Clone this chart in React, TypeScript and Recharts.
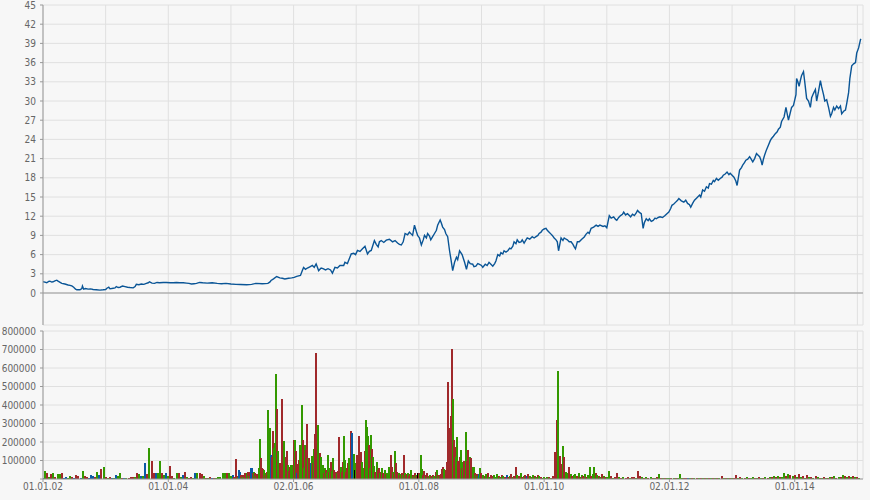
import React from "react";
import {
  ComposedChart,
  Line,
  BarChart,
  Bar,
  Cell,
  XAxis,
  YAxis,
  CartesianGrid,
  ReferenceLine,
} from "recharts";

// price points [year, price]
const price2002to2005: [number, number][] = [
  [2002.0, 1.75], [2002.03, 1.7], [2002.06, 1.6], [2002.09, 1.8], [2002.11, 1.85], [2002.14, 1.7],
  [2002.16, 1.75], [2002.19, 1.9], [2002.22, 2.0], [2002.24, 1.85], [2002.26, 1.75], [2002.3, 1.5],
  [2002.35, 1.4], [2002.4, 1.25], [2002.43, 1.2], [2002.46, 1.1], [2002.49, 0.9], [2002.52, 0.6],
  [2002.54, 0.5], [2002.59, 0.5], [2002.62, 0.7], [2002.63, 1.1], [2002.65, 0.6], [2002.68, 0.7],
  [2002.72, 0.6], [2002.76, 0.65], [2002.8, 0.55], [2002.85, 0.5], [2002.91, 0.45], [2002.96, 0.5],
  [2003.0, 0.55], [2003.02, 0.75], [2003.05, 0.9], [2003.07, 0.65], [2003.12, 0.75], [2003.15, 0.8],
  [2003.17, 1.0], [2003.2, 0.85], [2003.23, 0.9], [2003.27, 1.1], [2003.31, 1.0], [2003.35, 0.9],
  [2003.39, 0.85], [2003.44, 0.8], [2003.47, 1.0], [2003.49, 1.35], [2003.53, 1.3], [2003.57, 1.4],
  [2003.61, 1.35], [2003.65, 1.5], [2003.68, 1.6], [2003.7, 1.75], [2003.74, 1.55], [2003.78, 1.5],
  [2003.82, 1.65], [2003.86, 1.6], [2003.92, 1.65], [2003.97, 1.65], [2004.03, 1.6], [2004.08, 1.6],
  [2004.13, 1.65], [2004.18, 1.6], [2004.24, 1.6], [2004.29, 1.55], [2004.33, 1.5], [2004.37, 1.4],
  [2004.41, 1.45], [2004.45, 1.5], [2004.5, 1.65], [2004.55, 1.6], [2004.62, 1.55], [2004.7, 1.6],
  [2004.78, 1.5], [2004.85, 1.45], [2004.92, 1.5], [2005.0, 1.4], [2005.08, 1.35], [2005.15, 1.33],
  [2005.25, 1.3], [2005.33, 1.35],
];

const price2005to2007: [number, number][] = [
  [2005.4, 1.5], [2005.5, 1.45], [2005.59, 1.5], [2005.62, 1.7], [2005.64, 1.95], [2005.68, 2.2],
  [2005.73, 2.58], [2005.78, 2.37], [2005.82, 2.3], [2005.86, 2.2], [2005.92, 2.3], [2005.97, 2.37],
  [2006.01, 2.45], [2006.05, 2.6], [2006.11, 2.75], [2006.14, 3.5], [2006.16, 4.0], [2006.19, 3.7],
  [2006.22, 3.9], [2006.26, 4.1], [2006.3, 4.3], [2006.33, 4.0], [2006.36, 4.55], [2006.4, 3.5],
  [2006.44, 3.9], [2006.47, 3.8], [2006.51, 3.6], [2006.55, 3.8], [2006.59, 3.6], [2006.62, 3.1],
  [2006.66, 4.0], [2006.7, 3.9], [2006.74, 4.3], [2006.8, 4.3], [2006.82, 4.8], [2006.86, 4.6],
  [2006.88, 5.1], [2006.92, 6.1], [2006.96, 6.2], [2006.99, 6.0], [2007.02, 6.65], [2007.06, 6.5],
  [2007.1, 6.9], [2007.14, 7.3], [2007.18, 6.1], [2007.21, 6.5], [2007.24, 6.65], [2007.29, 8.2],
  [2007.32, 7.6], [2007.35, 7.2],
];

const price2007to2010: [number, number][] = [
  [2007.37, 8.0], [2007.4, 8.2], [2007.44, 7.9], [2007.48, 8.25], [2007.53, 8.4], [2007.58, 8.0],
  [2007.62, 8.2], [2007.66, 7.8], [2007.69, 7.6], [2007.72, 7.5], [2007.75, 8.0], [2007.78, 9.3],
  [2007.82, 9.1], [2007.85, 9.5], [2007.88, 9.2], [2007.9, 9.0], [2007.93, 10.6], [2007.96, 9.6],
  [2007.98, 9.0], [2008.01, 8.6], [2008.04, 7.5], [2008.07, 8.3], [2008.09, 9.0], [2008.12, 8.6],
  [2008.14, 9.3], [2008.17, 8.9], [2008.19, 8.3], [2008.22, 8.8], [2008.25, 9.3], [2008.28, 9.8],
  [2008.3, 10.6], [2008.34, 11.4], [2008.36, 10.9], [2008.38, 10.3], [2008.41, 9.9], [2008.43, 9.3],
  [2008.46, 8.8], [2008.49, 6.6], [2008.51, 5.4], [2008.54, 3.5], [2008.57, 4.8], [2008.6, 5.6],
  [2008.62, 5.2], [2008.65, 6.6], [2008.69, 6.0], [2008.73, 4.8], [2008.76, 3.7], [2008.79, 5.0],
  [2008.82, 4.6], [2008.86, 4.5], [2008.88, 4.1], [2008.91, 4.2], [2008.94, 4.6], [2008.96, 4.5],
  [2009.0, 4.3], [2009.02, 4.0], [2009.06, 4.5], [2009.09, 4.3], [2009.12, 4.8], [2009.15, 4.5],
  [2009.18, 4.2], [2009.21, 4.6], [2009.23, 5.0], [2009.26, 6.0], [2009.29, 5.8], [2009.31, 6.3],
  [2009.34, 6.1], [2009.36, 6.6], [2009.39, 6.4], [2009.42, 6.6], [2009.45, 7.0], [2009.47, 6.9],
  [2009.5, 7.3], [2009.52, 8.0], [2009.55, 7.7], [2009.57, 8.3], [2009.6, 7.9], [2009.63, 8.0],
  [2009.65, 8.3], [2009.68, 7.8], [2009.71, 8.3], [2009.73, 8.6], [2009.77, 8.4], [2009.81, 8.8],
  [2009.84, 8.6], [2009.87, 8.8], [2009.9, 9.0], [2009.92, 9.3], [2009.95, 9.5], [2009.97, 9.8],
  [2010.0, 10.0], [2010.03, 10.1], [2010.05, 9.8], [2010.08, 9.5], [2010.11, 9.2], [2010.13, 9.0],
  [2010.16, 8.6], [2010.19, 8.3], [2010.21, 8.0], [2010.23, 6.6], [2010.25, 7.6], [2010.27, 8.6],
  [2010.3, 8.2], [2010.32, 8.6], [2010.35, 8.4], [2010.37, 8.3], [2010.4, 8.0], [2010.43, 8.0],
  [2010.46, 7.6], [2010.48, 7.2], [2010.5, 6.9], [2010.53, 8.0],
];

const price2010to2015: [number, number][] = [
  [2010.56, 8.0], [2010.6, 8.4], [2010.64, 8.75], [2010.67, 9.2], [2010.7, 9.5], [2010.72, 9.3],
  [2010.75, 10.1], [2010.79, 10.3], [2010.83, 10.6], [2010.86, 10.4], [2010.89, 10.6], [2010.94, 10.4],
  [2010.97, 10.5], [2011.0, 10.2], [2011.04, 12.1], [2011.07, 11.7], [2011.11, 11.9], [2011.14, 11.5],
  [2011.16, 11.35], [2011.19, 11.8], [2011.22, 12.1], [2011.25, 12.3], [2011.27, 12.65], [2011.3, 12.2],
  [2011.33, 12.4], [2011.36, 12.1], [2011.38, 11.9], [2011.41, 12.3], [2011.44, 12.1], [2011.47, 12.5],
  [2011.49, 12.9], [2011.52, 12.6], [2011.55, 12.4], [2011.58, 10.1], [2011.6, 11.0], [2011.63, 11.6],
  [2011.66, 11.3], [2011.68, 11.6], [2011.71, 11.2], [2011.74, 11.35], [2011.77, 11.7], [2011.79, 11.6],
  [2011.82, 11.8], [2011.85, 11.9], [2011.89, 11.8], [2011.93, 12.1], [2011.96, 12.4], [2011.99, 12.65],
  [2012.02, 13.2], [2012.04, 13.7], [2012.07, 13.9], [2012.1, 14.2], [2012.13, 14.5], [2012.15, 14.75],
  [2012.19, 14.4], [2012.23, 14.2], [2012.26, 14.5], [2012.29, 14.0], [2012.32, 13.8], [2012.34, 13.4],
  [2012.37, 14.0], [2012.4, 14.5], [2012.44, 14.9], [2012.48, 15.3], [2012.5, 15.0], [2012.53, 16.1],
  [2012.56, 15.9], [2012.59, 16.6], [2012.62, 16.4], [2012.64, 17.1], [2012.67, 17.0], [2012.7, 17.6],
  [2012.72, 17.4], [2012.75, 17.9], [2012.78, 17.6], [2012.81, 17.9], [2012.84, 18.1], [2012.86, 18.4],
  [2012.89, 18.6], [2012.92, 18.9], [2012.95, 18.5], [2012.97, 18.7], [2013.0, 18.4], [2013.03, 18.1],
  [2013.06, 17.5], [2013.08, 16.8], [2013.1, 18.0], [2013.12, 19.2], [2013.15, 19.6], [2013.17, 20.0],
  [2013.2, 20.4], [2013.22, 20.75], [2013.25, 20.9], [2013.28, 21.3], [2013.3, 21.0], [2013.33, 20.5],
  [2013.36, 21.0], [2013.39, 21.8], [2013.42, 21.5], [2013.44, 21.3], [2013.46, 20.8], [2013.48, 20.0],
  [2013.5, 20.9], [2013.52, 21.55], [2013.55, 22.4], [2013.58, 23.1], [2013.61, 23.8], [2013.63, 24.15],
  [2013.66, 24.5], [2013.69, 24.9], [2013.72, 25.2], [2013.74, 25.6], [2013.77, 25.9], [2013.79, 26.8],
  [2013.83, 27.5], [2013.86, 29.0], [2013.88, 28.0], [2013.9, 27.0], [2013.93, 28.2], [2013.95, 29.0],
  [2013.98, 29.3], [2014.02, 31.0], [2014.03, 33.5], [2014.05, 33.0], [2014.07, 32.3], [2014.09, 33.2],
  [2014.11, 34.0], [2014.14, 34.6], [2014.16, 33.0], [2014.19, 30.4], [2014.22, 30.0], [2014.25, 29.0],
  [2014.27, 30.5], [2014.3, 31.2], [2014.33, 31.8], [2014.35, 30.0], [2014.38, 31.5], [2014.41, 33.2],
  [2014.43, 32.2], [2014.46, 31.0], [2014.48, 30.0], [2014.51, 30.2], [2014.54, 29.0], [2014.57, 27.6],
  [2014.59, 28.0], [2014.62, 29.0], [2014.64, 28.6], [2014.67, 29.2], [2014.7, 28.8], [2014.73, 29.2],
  [2014.75, 28.0], [2014.78, 28.4], [2014.81, 28.6], [2014.83, 29.6], [2014.86, 31.3], [2014.88, 33.5],
  [2014.91, 35.5], [2014.94, 35.8], [2014.97, 36.0], [2014.99, 37.5], [2015.02, 38.3], [2015.05, 39.6],
  [2015.06, 39.7],
];

// volume in thousands, one slot per value spread evenly over the year; g = up, r = down, b = flat
const vol2002 = [8, 45, 30, 12, 25, 30, 10, 28, 25, 30, 8, 10, 6, 15, 10, 5, 20, 15, 6, 42, 15, 12, 6, 20, 15, 12, 40, 20, 55, 65];
const col2002 = "bgrgrgrggrbbggrbrrbgrrbbbrgbrg";
const vol2003 = [10, 6, 12, 5, 6, 20, 15, 30, 5, 8, 5, 6, 10, 10, 12, 30, 28, 15, 15, 85, 25, 165, 100, 30, 30, 30, 100, 30, 20, 30];
const col2003 = "rgrbgbggrbgrrrgrgbgbrgrrbggrgb";
const vol2004 = [15, 70, 15, 8, 30, 35, 10, 20, 40, 10, 6, 10, 5, 35, 35, 35, 25, 15, 5, 4, 10, 5, 8, 5, 10, 10, 30, 35, 35, 35];
const col2004 = "grrggrgbrgrrgbgrrgrgrbrgggggrg";
const vol2005 = [
  15, 8, 20, 10, 6, 110, 15, 10, 50, 40, 20, 12, 20, 10, 30, 30, 40, 15, 40, 58,
  60, 30, 40, 30, 15, 25, 20, 60, 217, 112, 58, 55, 50, 20, 30, 40, 375, 275, 130, 121,
  257, 167, 194, 570, 380, 149, 85, 85, 80, 435, 158, 203, 121, 121, 149, 76, 45, 67, 76, 76,
];
const col2005 = "ggbrgrrgbbrgrgrgrgrbbrgrgrrggrrrgrgrggbrrgggrggrrrrggrrgrrgg";
const vol2006 = [
  212, 212, 149, 30, 80, 103, 185, 130, 402, 212, 60, 185, 158, 297, 112, 112, 60, 85, 125, 85,
  161, 243, 680, 293, 60, 140, 121, 40, 76, 30, 58, 50, 35, 130, 40, 58, 94, 45, 112, 50,
  30, 40, 30, 45, 225, 67, 40, 94, 234, 103, 40, 58, 85, 112, 60, 257, 248, 94, 136, 50,
];
const col2006 = "rgrbrrgggrggrrgrrbgrgrrggrgggrgrggrgrggrrrgrrgrrggrrrggrbbg";
const vol2007 = [
  85, 130, 102, 230, 94, 146, 94, 60, 149, 317, 280, 234, 182, 60, 236, 164, 120, 70, 40, 35,
  93, 50, 57, 30, 40, 57, 30, 35, 48, 25, 30, 66, 40, 129, 66, 40, 30, 152, 84, 39,
  25, 30, 20, 25, 30, 20, 129, 30, 20, 25, 30, 15, 25, 48, 20, 15, 30, 22, 15, 30,
];
const col2007 = "grrrrrggrgggrggrggrrgrrgrgrrgrgggrrgrgrrrgrgrgrgrrgrrgrgrgr";
const vol2008 = [
  30, 25, 130, 52, 20, 45, 15, 20, 30, 10, 15, 21, 15, 10, 20, 15, 39, 49, 20, 15,
  21, 25, 52, 65, 52, 30, 48, 90, 524, 273, 150, 340, 703, 430, 209, 173, 120, 225, 100, 120,
  155, 60, 93, 100, 70, 254, 100, 155, 113, 120, 111, 40, 67, 66, 30, 20, 25, 15, 25, 57,
];
const col2008 = "rgggrrgrrgrgrgrgrgrgrrrrggrrrrrrrgrrggrrgrgrrgrrrgrrggrgrgbg";
const vol2009 = [30, 20, 15, 25, 30, 10, 20, 15, 20, 10, 25, 15, 10, 20, 15, 10, 20, 10, 15, 25, 10, 15, 66, 20, 15, 30, 10, 15, 20, 15, 25, 15, 10, 20, 15, 10, 20, 15, 10, 8];
const col2009 = "rgrgrgrrgggrgrgrbrgrgrrgrgrgrbrgrgrgrgrg";
const vol2010 = [10, 8, 12, 10, 6, 8, 15, 146, 321, 585, 125, 80, 176, 120, 40, 30, 63, 25, 15, 20, 25, 15, 30, 10, 20, 15, 25, 10, 20, 63, 15, 25, 63, 30, 20, 15, 10, 25, 15, 10];
const col2010 = "grgrgrrrrgrrgrggrgrggrgrgrgrggrggrgrgrgr";
const vol2011 = [12, 45, 15, 8, 10, 30, 10, 8, 12, 6, 10, 8, 12, 10, 8, 45, 15, 10, 8, 12, 6, 10, 8, 6, 10, 25, 8, 6, 4, 8];
const col2011 = "ggrgrrgrgrrgrrgrrgrgrgrgrgrgrg";
const vol2012 = [6, 4, 8, 5, 6, 25, 4, 5, 3, 3, 4, 5, 6, 3, 4, 5, 3, 4, 5, 6, 4, 5, 3, 4, 6, 15, 4, 5, 6, 4];
const col2012 = "grgrgggrrbgrgrgrgrgrgrgrgrgrgr";
const vol2013 = [5, 6, 20, 8, 10, 6, 8, 10, 5, 8, 12, 6, 8, 10, 6, 8, 12, 8, 10, 12, 15, 10, 15, 12, 10, 30, 15, 25, 20, 15];
const col2013 = "grrgrgrgrggrgrgrgrgrgrgrggrgrg";
const vol2014 = [20, 10, 25, 12, 15, 8, 20, 10, 12, 8, 15, 10, 8, 6, 10, 8, 6, 10, 12, 15, 8, 10, 12, 20, 15, 10, 18, 12, 15, 10];
const col2014 = "rgrgrgrgrgrgrgrgrgrgrgrgrgrgrg";
const vol2015 = [10, 8];
const col2015 = "rg";

const volumeYears: [number, number[], string, number][] = [
  [2002, vol2002, col2002, 30],
  [2003, vol2003, col2003, 30],
  [2004, vol2004, col2004, 30],
  [2005, vol2005, col2005, 60],
  [2006, vol2006, col2006, 60],
  [2007, vol2007, col2007, 60],
  [2008, vol2008, col2008, 60],
  [2009, vol2009, col2009, 40],
  [2010, vol2010, col2010, 40],
  [2011, vol2011, col2011, 30],
  [2012, vol2012, col2012, 30],
  [2013, vol2013, col2013, 30],
  [2014, vol2014, col2014, 30],
  [2015, vol2015, col2015, 30],
];

const yearTicks = [2002, 2003, 2004, 2005, 2006, 2007, 2008, 2009, 2010, 2011, 2012, 2013, 2014, 2015];
const labelYears = [2002, 2004, 2006, 2008, 2010, 2012, 2014];
const dateLabels = ["01.01.02", "01.01.04", "02.01.06", "01.01.08", "01.01.10", "02.01.12", "01.01.14"];
const priceTicks = [0, 3, 6, 9, 12, 15, 18, 21, 24, 27, 30, 33, 36, 39, 42, 45];
const volumeTicks = [0, 100000, 200000, 300000, 400000, 500000, 600000, 700000, 800000];

const barColors: Record<string, string> = { g: "#339900", r: "#a0292b", b: "#0b5aa5" };
const FONT = "'DejaVu Sans Condensed', 'DejaVu Sans', sans-serif";
const X_DOMAIN: [number, number] = [2002, 2015.09];
const BAR_W = 2;

const priceData = [...price2002to2005, ...price2005to2007, ...price2007to2010, ...price2010to2015].map(
  ([t, p]) => ({ t, p })
);

const volData = volumeYears.flatMap(([year, vals, cols, slots]) =>
  vals.map((v, i) => ({ t: year + i / slots, v: v * 1000, c: cols[i] }))
);

function DateTick(props: any) {
  const { x, y, payload } = props;
  const idx = labelYears.indexOf(payload.value);
  if (idx < 0) return <g />;
  return (
    <g>
      <line x1={x} x2={x} y1={y - 4} y2={y - 1} stroke="#999" />
      <text
        x={x}
        y={y}
        dy="0.71em"
        textAnchor="middle"
        fill="#666"
        fontSize={10}
        fontFamily={FONT}
        style={{ fontStretch: "condensed" }}
      >
        {dateLabels[idx]}
      </text>
    </g>
  );
}

// volume bar centred on the position Recharts computed, drawn at a fixed width
function VolumeBar(props: any) {
  const { x, y, width, height, fill } = props;
  if (!height || height <= 0) return <g />;
  const cx = x + width / 2;
  return (
    <rect
      x={Math.round(cx - BAR_W / 2)}
      y={y}
      width={BAR_W}
      height={height}
      fill={fill}
      shapeRendering="crispEdges"
    />
  );
}

const tickStyle = { fill: "#666", fontSize: 10, fontFamily: FONT, style: { fontStretch: "condensed" } };

export default function App() {
  return (
    <div
      style={{
        position: "absolute",
        left: 0,
        top: 0,
        width: 870,
        height: 500,
        background: "#f7f7f7",
        overflow: "hidden",
      }}
    >
      <div style={{ position: "absolute", left: 0, top: 0 }}>
        <ComposedChart width={870} height={330} data={priceData} margin={{ top: 5, right: 7, bottom: 5, left: 0 }}>
          <CartesianGrid stroke="#e0e0e0" />
          <XAxis dataKey="t" type="number" domain={X_DOMAIN} ticks={yearTicks} allowDataOverflow hide />
          <YAxis
            type="number"
            domain={[-5, 45]}
            ticks={priceTicks}
            width={43}
            tickSize={3}
            tickMargin={4}
            stroke="#999"
            tick={tickStyle}
            interval={0}
          />
          <ReferenceLine y={0} stroke="#999" />
          <Line
            type="linear"
            dataKey="p"
            stroke="#0a5596"
            strokeWidth={1.4}
            dot={false}
            isAnimationActive={false}
          />
        </ComposedChart>
      </div>
      <div style={{ position: "absolute", left: 0, top: 320 }}>
        <BarChart width={870} height={180} data={volData} margin={{ top: 11, right: 7, bottom: 0, left: 0 }}>
          <CartesianGrid stroke="#e0e0e0" />
          <XAxis
            dataKey="t"
            type="number"
            domain={X_DOMAIN}
            ticks={yearTicks}
            allowDataOverflow
            height={21}
            tickSize={3}
            tickMargin={1}
            tickLine={false}
            stroke="#999"
            tick={<DateTick />}
            interval={0}
          />
          <YAxis
            type="number"
            domain={[0, 800000]}
            ticks={volumeTicks}
            width={43}
            tickSize={3}
            tickMargin={4}
            stroke="#999"
            tick={tickStyle}
            interval={0}
            tickFormatter={(v: number) => (v === 0 ? "" : String(v))}
          />
          <Bar dataKey="v" barSize={2} isAnimationActive={false} shape={<VolumeBar />}>
            {volData.map((d, i) => (
              <Cell key={i} fill={barColors[d.c]} />
            ))}
          </Bar>
        </BarChart>
      </div>
    </div>
  );
}
